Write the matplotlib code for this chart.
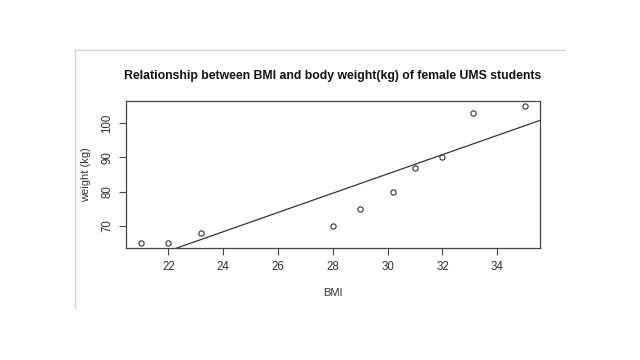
import numpy as np
import matplotlib
matplotlib.use("Agg")
import matplotlib.pyplot as plt
from matplotlib.lines import Line2D

plt.rcParams['font.family'] = ['Liberation Sans', 'DejaVu Sans']

# BMI vs weight of female UMS students
bmi = [21, 22, 23.2, 28, 29, 30.2, 31, 32, 33.1, 35]
weight = [65, 65, 68, 70, 75, 80, 87, 90, 103, 105]
xticks = [22, 24, 26, 28, 30, 32, 34]
yticks = [70, 80, 90, 100]

# regression line like abline(lm(weight ~ bmi))
slope, intercept = np.polyfit(bmi, weight, 1)

fig = plt.figure(figsize=(6.4, 3.6), dpi=100)
ax = fig.add_axes([0.1964, 0.3103, 0.6474, 0.41])

ax.plot(bmi, weight, 'o', mfc='none', mec='#333333', ms=3.8, mew=0.8)

# R-style 4% padding
xr = max(bmi) - min(bmi)
yr = max(weight) - min(weight)
xlim = (min(bmi) - 0.04 * xr, max(bmi) + 0.04 * xr)
ylim = (min(weight) - 0.04 * yr, max(weight) + 0.04 * yr)
xs = np.array(xlim)
ax.plot(xs, intercept + slope * xs, color='#333333', lw=0.9)
ax.set_xlim(xlim)
ax.set_ylim(ylim)

ax.set_xticks(xticks)
ax.set_yticks(yticks)
ax.tick_params(colors='#444444', labelcolor='#333333', labelsize=8.3, length=5, width=0.8, pad=4)
for lab in ax.get_yticklabels():
    lab.set_rotation(90)
    lab.set_va('center')
for s in ax.spines.values():
    s.set_color('#444444')
    s.set_linewidth(0.9)

ax.set_xlabel('BMI', fontsize=8, color='#333333', labelpad=11)
ax.set_ylabel('weight (kg)', fontsize=8, color='#333333', labelpad=7)
fig.text(0.519, 0.789, 'Relationship between BMI and body weight(kg) of female UMS students',
         ha='center', va='center', fontsize=8.8, fontweight='bold', color='#111111')

# faint frame of the screenshot
fig.add_artist(Line2D([0.116, 0.883], [0.861, 0.861], color='#d4d4d4', lw=1))
fig.add_artist(Line2D([0.117, 0.117], [0.861, 0.144], color='#d4d4d4', lw=1))

fig.savefig('out.png', dpi=100)
